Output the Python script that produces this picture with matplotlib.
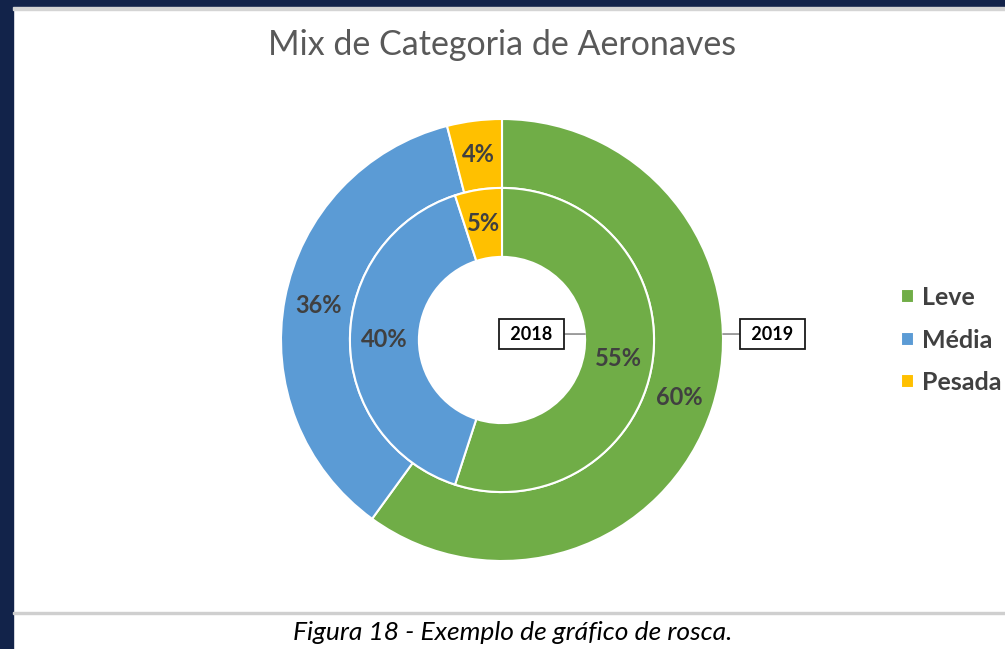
import matplotlib.pyplot as plt
from matplotlib.patches import Rectangle

# dados
categorias = ["Leve", "Média", "Pesada"]
valores_2018 = [55, 40, 5]
valores_2019 = [60, 36, 4]
cores = ["#70ad47", "#5b9bd5", "#ffc000"]

titulo = "Mix de Categoria de Aeronaves"
legenda_fig = "Figura 18 - Exemplo de gráfico de rosca."

W, H = 1005, 649
fig = plt.figure(figsize=(W / 100, H / 100), dpi=100)
fig.patch.set_facecolor("white")

# moldura (fundo escuro do slide)
navy = "#12234a"
fig.patches.append(Rectangle((0, 1 - 7 / H), 1, 7 / H, transform=fig.transFigure,
                             color=navy, zorder=0))
fig.patches.append(Rectangle((0, 0), 13 / W, 1, transform=fig.transFigure,
                             color=navy, zorder=0))
fig.patches.append(Rectangle((13 / W, 1 - 9.5 / H), 1, 2.5 / H, transform=fig.transFigure,
                             color="#d4d4d4", zorder=0))
fig.patches.append(Rectangle((13 / W, 1 - 614 / H), 1, 2 / H, transform=fig.transFigure,
                             color="#cfcfcf", zorder=0))

# eixo da rosca: centro (502, 340) px, raio 221 px
cx, cy, R = 502, 340, 221
ax = fig.add_axes([(cx - R) / W, (H - cy - R) / H, 2 * R / W, 2 * R / H])
largura = 0.312
wprops = dict(width=largura, edgecolor="white", linewidth=1.5)
tprops = dict(color="#404040", fontsize=17, fontweight="bold", family="Lato")

w_out, _, _ = ax.pie(valores_2019, radius=1.0, colors=cores, startangle=90,
                     counterclock=False, wedgeprops=wprops,
                     autopct=lambda p: f"{p:.0f}%", pctdistance=0.844,
                     textprops=tprops)
r_in = 1.0 - largura
ax.pie(valores_2018, radius=r_in, colors=cores, startangle=90,
       counterclock=False, wedgeprops=wprops,
       autopct=lambda p: f"{p:.0f}%", pctdistance=0.773,
       textprops=tprops)
ax.set_xlim(-1, 1)
ax.set_ylim(-1, 1)
ax.set_aspect("equal")
ax.axis("off")

# rótulos das séries
bprops = dict(boxstyle="square,pad=0.38", fc="white", ec="#1a1a1a", lw=1.3)
aprops = dict(arrowstyle="-", color="#8c8c8c", lw=1.2, shrinkA=0, shrinkB=0)
ax.annotate(" 2018 ", xy=(r_in - largura, 0.027), xytext=(0.133, 0.027),
            ha="center", va="center", fontsize=13, fontweight="bold", family="Lato",
            bbox=bprops, arrowprops=aprops)
ax.annotate(" 2019 ", xy=(1.0, 0.027), xytext=(1.224, 0.027),
            ha="center", va="center", fontsize=13, fontweight="bold", family="Lato",
            bbox=bprops, arrowprops=aprops, annotation_clip=False)

fig.text(cx / W, 1 - 45 / H, titulo, ha="center", va="center",
         fontsize=24.5, color="#595959", family="Lato")

leg = fig.legend(w_out, categorias, loc="center left",
                 bbox_to_anchor=(901 / W, 1 - cy / H), frameon=False,
                 borderpad=0, borderaxespad=0,
                 handlelength=0.5, handleheight=0.5, handletextpad=0.32,
                 labelspacing=0.78,
                 prop=dict(family="Lato", weight="bold", size=18))
for t in leg.get_texts():
    t.set_color("#404040")

fig.text(513 / W, 1 - 633 / H, legenda_fig, ha="center", va="center",
         fontsize=19, style="italic", color="black", family="Lato")

fig.savefig("out.png", dpi=100)
